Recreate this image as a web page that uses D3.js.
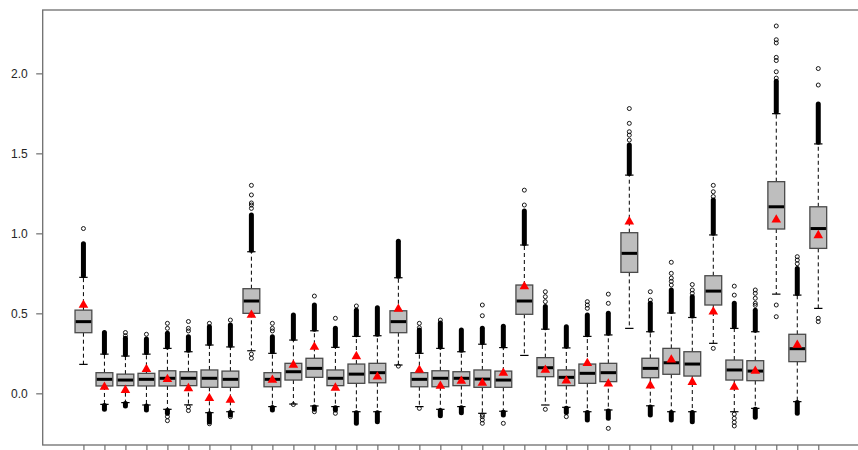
<!DOCTYPE html>
<html>
<head>
<meta charset="utf-8">
<script src="https://cdn.jsdelivr.net/npm/d3@7"></script>
<style>
  html, body { margin: 0; padding: 0; background: #ffffff; }
  svg { display: block; }
  text { font-family: "Liberation Sans", Arial, sans-serif; }
</style>
</head>
<body>
<svg id="chart" width="858" height="450"></svg>
<script>
// ---------- data ----------
const categories = ["V1","V2","V3","V4","V5","V6","V7","V8","V9","V10","V11","V12",
  "V13","V14","V15","V16","V17","V18","V19","V20","V21","V22","V23","V24",
  "V25","V26","V27","V28","V29","V30","V31","V32","V33","V34","V35","V36"];

const q1 = [.379,.046,.048,.046,.046,.048,.0375,.0375,.5,.041,.083,.1,
  .048,.0625,.066,.379,.041,.041,.048,.0375,.0375,.494,.104,.048,
  .0625,.073,.756,.0975,.119,.108,.552,.083,.079,1.027,.198,.906];

const medians = [.448,.0875,.083,.0875,.094,.094,.094,.0875,.577,.0875,.135,.156,
  .094,.12,.129,.448,.0875,.094,.094,.089,.083,.577,.16,.1,
  .125,.129,.875,.156,.191,.183,.639,.146,.139,1.166,.279,1.03];

const q3 = [.52,.129,.12,.125,.141,.135,.146,.139,.654,.129,.1875,.219,
  .146,.183,.1875,.516,.129,.141,.135,.146,.139,.677,.223,.146,
  .183,.1875,1.004,.219,.281,.26,.735,.208,.204,1.323,.369,1.166];

const whiskerLow = [.181,-.069,-.058,-.073,-.10,-.072,-.121,-.115,.266,-.083,-.067,-.079,
  -.083,-.115,-.115,.177,-.083,-.10,-.083,-.125,-.112,.237,-.073,-.0875,
  -.115,-.104,.406,-.078,-.115,-.115,.3125,-.115,-.094,.62,-.052,.531];

const whiskerHigh = [.725,.245,.233,.245,.281,.26,.302,.29,.885,.25,.333,.391,
  .2875,.356,.36,.7225,.25,.281,.26,.307,.286,.927,.401,.284,
  .356,.365,1.364,.385,.502,.474,.99,.406,.385,1.748,.614,1.559];

const means = [.552,.04,.02,.15,.0875,.031,-.031,-.042,.49,.083,.177,.29,
  .034,.231,.104,.527,.146,.046,.077,.064,.127,.668,.146,.078,
  .1875,.06,1.073,.048,.21,.07,.51,.04,.14,1.085,.302,.987];

// runs of outliers so dense that their circles merge into a solid column: [from, to]
const denseHigh = [[.735,.935],[.255,.38],[.243,.345],[.255,.34],[.29,.375],[.27,.354],
  [.312,.416],[.3,.427],[.895,1.114],[.26,.354],[.343,.49],[.4,.552],
  [.297,.406],[.366,.52],[.37,.535],[.732,.95],[.26,.396],[.29,.44],
  [.27,.396],[.317,.406],[.296,.42],[.937,1.14],[.41,.542],[.294,.416],
  [.366,.49],[.375,.5],[1.374,1.552],[.395,.5625],[.512,.646],[.484,.604],
  [1.0,1.208],[.416,.5625],[.395,.52],[1.758,1.95],[.624,.78],[1.569,1.808]];

const denseLow = [null,[-.076,-.10],[-.064,-.08],[-.08,-.104],[-.107,-.125],null,
  [-.128,-.18],[-.12,-.135],null,[-.088,-.104],null,[-.085,-.10],
  [-.09,-.104],[-.122,-.1875],[-.122,-.177],null,null,[-.107,-.14],
  [-.09,-.121],null,[-.118,-.135],null,null,[-.093,-.12],
  [-.12,-.167],[-.11,-.156],null,[-.085,-.135],[-.12,-.167],[-.12,-.177],
  null,null,[-.1,-.15],null,[-.058,-.125],null];

// isolated outliers
const outliers = [[1.03],[],[.36,.38],[.369],[.406,.4375,-.146,-.171],[.39,.406,.449,-.085,-.108],
  [.4375,-.19],[.458,-.146],[1.156,1.177,1.19,1.24,1.30,.245,.219],[.39,.406,.4375],[-.07],[.608,-.115],
  [.469,-.125],[.546],[],[.17],[.41,.4375,-.094],[.458],
  [],[.485,.552,-.135,-.146,-.166,-.1875],[-.1875],[1.177,1.27],[.573,.604,.635,-.10],[-.146],
  [.531,.552,.573],[.5625,.62,-.219],[1.583,1.614,1.635,1.6875,1.78],[.583,.635],[.677,.70,.72,.75,.819],[.625,.646,.68],
  [1.23,1.26,1.30,.281],[.614,.67,-.13,-.156,-.181,-.204],[.55,.5625,.594,.625,.646],[1.97,2.01,2.08,2.10,2.19,2.21,2.296,.552,.479],[.81,.833,.854],[1.927,2.03,.469,.448]];

const yTicks = [0.0, 0.5, 1.0, 1.5, 2.0];

// ---------- chart ----------
const W = 858, H = 450;
const plot = { left: 42.7, right: 859, top: 10, bottom: 445 };
const svg = d3.select("#chart");

const positions = categories.map((c, i) => i + 1);
const n = categories.length;
const pad = (n) * 0.04 + 0.5; // R-style xlim extension
const x = d3.scaleLinear().domain([1 - pad, n + pad]).range([plot.left, plot.right]);
const y = d3.scaleLinear().domain([-0.323, 2.396]).range([plot.bottom, plot.top]);

const boxW = x(0.8) - x(0);
const stapleW = boxW / 2;

const data = categories.map((c, i) => ({
  c, pos: positions[i], q1: q1[i], med: medians[i], q3: q3[i],
  lo: whiskerLow[i], hi: whiskerHigh[i], mean: means[i],
  dHi: denseHigh[i], dLo: denseLow[i], out: outliers[i]
}));

const g = svg.append("g");

// whiskers
g.selectAll(".wh").data(data).join("line")
  .attr("x1", d => x(d.pos)).attr("x2", d => x(d.pos))
  .attr("y1", d => y(d.q3)).attr("y2", d => y(d.hi))
  .attr("stroke", "#000").attr("stroke-width", 1).attr("stroke-dasharray", "4,3");
g.selectAll(".wl").data(data).join("line")
  .attr("x1", d => x(d.pos)).attr("x2", d => x(d.pos))
  .attr("y1", d => y(d.q1)).attr("y2", d => y(d.lo))
  .attr("stroke", "#000").attr("stroke-width", 1).attr("stroke-dasharray", "4,3");

// staples
["hi", "lo"].forEach(k => {
  g.selectAll(".st" + k).data(data).join("line")
    .attr("x1", d => x(d.pos) - stapleW / 2).attr("x2", d => x(d.pos) + stapleW / 2)
    .attr("y1", d => y(d[k])).attr("y2", d => y(d[k]))
    .attr("stroke", "#000").attr("stroke-width", 1.2);
});

// dense outlier columns
["dHi", "dLo"].forEach(k => {
  g.selectAll(".dn" + k).data(data.filter(d => d[k])).join("line")
    .attr("x1", d => x(d.pos)).attr("x2", d => x(d.pos))
    .attr("y1", d => y(d[k][0])).attr("y2", d => y(d[k][1]))
    .attr("stroke", "#000").attr("stroke-width", 5).attr("stroke-linecap", "round");
});

// isolated outliers
const outPts = data.flatMap(d => d.out.map(v => ({ pos: d.pos, v })));
g.selectAll(".out").data(outPts).join("circle")
  .attr("cx", d => x(d.pos)).attr("cy", d => y(d.v)).attr("r", 2)
  .attr("fill", "none").attr("stroke", "#000").attr("stroke-width", 0.9);

// boxes
g.selectAll(".box").data(data).join("rect")
  .attr("x", d => x(d.pos) - boxW / 2).attr("width", boxW)
  .attr("y", d => y(d.q3)).attr("height", d => y(d.q1) - y(d.q3))
  .attr("fill", "#bebebe").attr("stroke", "#4a4a4a").attr("stroke-width", 1.3);

// medians
g.selectAll(".med").data(data).join("line")
  .attr("x1", d => x(d.pos) - boxW / 2 + 0.7).attr("x2", d => x(d.pos) + boxW / 2 - 0.7)
  .attr("y1", d => y(d.med)).attr("y2", d => y(d.med))
  .attr("stroke", "#000").attr("stroke-width", 3);

// means
const tri = d3.symbol().type(d3.symbolTriangle).size(40);
g.selectAll(".mean").data(data).join("path")
  .attr("d", tri)
  .attr("transform", d => `translate(${x(d.pos)},${y(d.mean)})`)
  .attr("fill", "#ff0000");

// frame
svg.append("rect")
  .attr("x", plot.left).attr("y", plot.top)
  .attr("width", plot.right - plot.left).attr("height", plot.bottom - plot.top)
  .attr("fill", "none").attr("stroke", "#6e6e6e").attr("stroke-width", 1.3);

// y axis
const yAxis = svg.append("g").attr("transform", `translate(${plot.left},0)`)
  .call(d3.axisLeft(y).tickValues(yTicks).tickFormat(d3.format(".1f")).tickSize(6.5).tickPadding(8.5));
yAxis.select(".domain").remove();
yAxis.selectAll(".tick line").attr("stroke", "#6e6e6e").attr("stroke-width", 1.2);
yAxis.selectAll(".tick text").attr("fill", "#262626").style("font-size", "12px")
  .style("font-family", '"Liberation Sans", Arial, sans-serif');

// x axis (ticks only)
const xAxis = svg.append("g").attr("transform", `translate(0,${plot.bottom})`)
  .call(d3.axisBottom(x).tickValues(positions).tickFormat("").tickSize(7));
xAxis.select(".domain").remove();
xAxis.selectAll(".tick line").attr("stroke", "#6e6e6e").attr("stroke-width", 1.2);
</script>
</body>
</html>
